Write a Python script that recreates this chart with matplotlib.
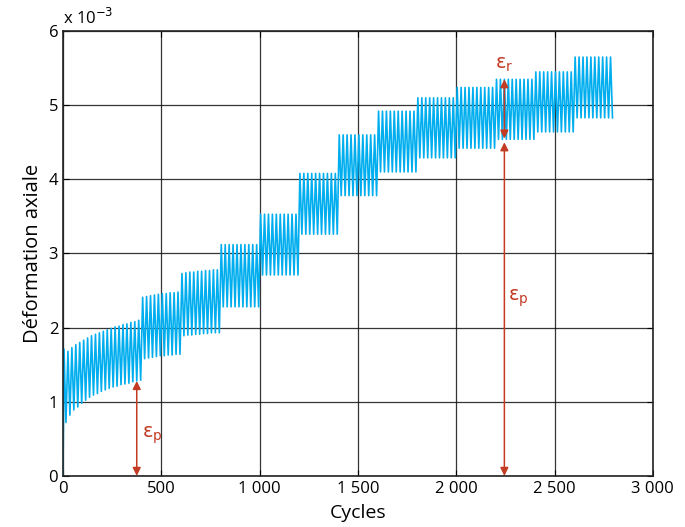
import numpy as np
import matplotlib
matplotlib.use('Agg')
import matplotlib.pyplot as plt
from matplotlib.ticker import FuncFormatter

plt.rcParams['font.family'] = ['Open Sans', 'DejaVu Sans']
plt.rcParams['mathtext.fontset'] = 'dejavusans'

# debut de chaque palier (cycles), 200 cycles par palier apres le premier
palier_debut = [0, 400, 600, 800, 1000, 1200, 1400, 1600, 1800, 2000, 2200, 2400, 2600]
periode = 20  # un pic tous les 20 cycles

# palier 1 : 20 oscillations (x 10^-3)
pics_1 = [1.71, 1.68, 1.73, 1.77, 1.80, 1.83, 1.86, 1.89, 1.91, 1.93,
          1.95, 1.97, 1.99, 2.01, 2.02, 2.04, 2.05, 2.07, 2.08, 2.10]
creux_1 = [0.72, 0.82, 0.89, 0.93, 0.98, 1.02, 1.06, 1.09, 1.11, 1.14,
           1.16, 1.18, 1.20, 1.21, 1.23, 1.24, 1.25, 1.27, 1.28, 1.29]
# paliers 2 et 3 : 10 oscillations
pics_2 = [2.41, 2.42, 2.43, 2.44, 2.45, 2.46, 2.46, 2.47, 2.47, 2.48]
creux_2 = [1.58, 1.59, 1.60, 1.61, 1.62, 1.62, 1.63, 1.63, 1.64, 1.64]
pics_3 = [2.73, 2.74, 2.75, 2.75, 2.76, 2.76, 2.77, 2.77, 2.78, 2.78]
creux_3 = [1.89, 1.90, 1.90, 1.91, 1.91, 1.92, 1.92, 1.93, 1.93, 1.93]
# paliers 4 a 13 : pic et creux quasi constants
pics_suite = [3.12, 3.53, 4.08, 4.60, 4.92, 5.10, 5.24, 5.35, 5.45, 5.65]
creux_suite = [2.28, 2.71, 3.26, 3.78, 4.10, 4.29, 4.42, 4.54, 4.64, 4.83]

pics = [pics_1, pics_2, pics_3] + [[p] * 10 for p in pics_suite]
creux = [creux_1, creux_2, creux_3] + [[c] * 10 for c in creux_suite]

# construction du signal en dents de scie
x = [0]
y = [0]
for debut, pp, cc in zip(palier_debut, pics, creux):
    for i, (p, c) in enumerate(zip(pp, cc)):
        x += [debut + i * periode + 5, debut + i * periode + 15]
        y += [p, c]

fig = plt.figure(figsize=(6.85, 5.27), dpi=100)
ax = fig.add_axes([0.092, 0.097, 0.861, 0.844])

ax.plot(x, y, color='#00aeef', lw=1.2)

ax.set_xlim(0, 3000)
ax.set_ylim(0, 6)
ax.set_xticks(np.arange(0, 3001, 500))
ax.set_yticks(np.arange(0, 7, 1))
ax.xaxis.set_major_formatter(FuncFormatter(lambda v, p: f'{int(v):,}'.replace(',', ' ')))
ax.grid(True, color='#111111', lw=0.9, alpha=0.85)
ax.set_axisbelow(True)
ax.tick_params(direction='in', length=4, labelsize=12, top=True, right=True)
for s in ax.spines.values():
    s.set_linewidth(1.2)
    s.set_color('#222222')

ax.set_xlabel('Cycles', fontsize=14, labelpad=5)
ax.set_ylabel('Déformation axiale', fontsize=14.5, labelpad=4)
ax.text(0.0, 1.008, r'x 10$^{-3}$', transform=ax.transAxes, fontsize=12,
        ha='left', va='bottom')

rouge = '#c23b22'
fleche = dict(arrowstyle='<|-|>', color=rouge, lw=1.1, mutation_scale=12,
              shrinkA=0, shrinkB=0)
ax.annotate('', xy=(375, 0), xytext=(375, 1.28), arrowprops=fleche)
ax.annotate('', xy=(2245, 0), xytext=(2245, 4.50), arrowprops=fleche)
ax.annotate('', xy=(2245, 4.55), xytext=(2245, 5.35), arrowprops=fleche)
ax.text(400, 0.55, r'$\mathrm{ε}_\mathrm{p}$', color=rouge, fontsize=14, va='center')
ax.text(2265, 2.40, r'$\mathrm{ε}_\mathrm{p}$', color=rouge, fontsize=14, va='center')
ax.text(2195, 5.55, r'$\mathrm{ε}_\mathrm{r}$', color=rouge, fontsize=14, va='center')

fig.savefig('out.png', dpi=100)
